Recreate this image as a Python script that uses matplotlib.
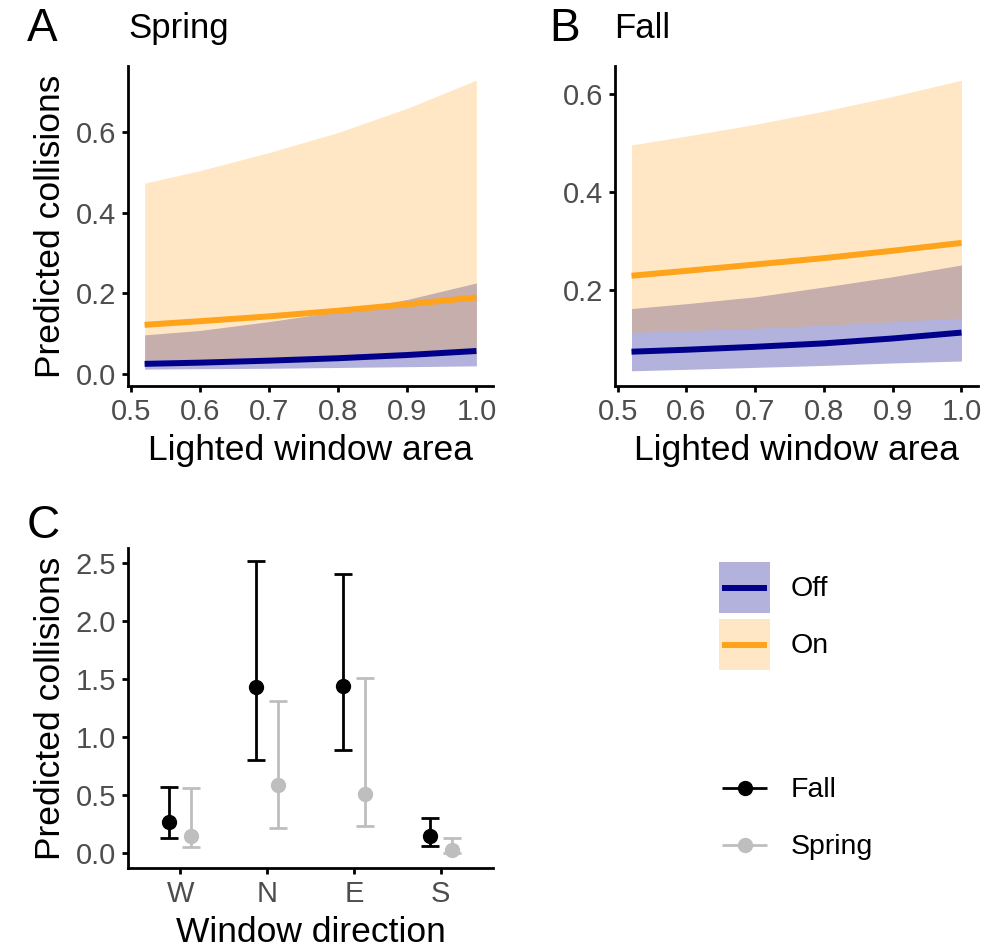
import matplotlib
matplotlib.use("Agg")
import matplotlib.pyplot as plt
from matplotlib.lines import Line2D
from matplotlib.patches import Rectangle
import numpy as np

plt.rcParams['font.family'] = ['Liberation Sans', 'DejaVu Sans']

# ---- data ----
area = [0.52, 0.6, 0.7, 0.8, 0.9, 1.0]

spring_on = [0.122, 0.131, 0.143, 0.157, 0.173, 0.190]
spring_on_lo = [0.035, 0.037, 0.040, 0.043, 0.047, 0.050]
spring_on_hi = [0.474, 0.505, 0.550, 0.600, 0.660, 0.730]
spring_off = [0.025, 0.028, 0.033, 0.039, 0.047, 0.057]
spring_off_lo = [0.012, 0.013, 0.014, 0.016, 0.018, 0.020]
spring_off_hi = [0.097, 0.108, 0.130, 0.155, 0.185, 0.226]

fall_on = [0.230, 0.240, 0.253, 0.266, 0.281, 0.297]
fall_on_lo = [0.1145, 0.118, 0.123, 0.129, 0.136, 0.144]
fall_on_hi = [0.497, 0.515, 0.539, 0.566, 0.596, 0.629]
fall_off = [0.075, 0.079, 0.085, 0.092, 0.102, 0.114]
fall_off_lo = [0.036, 0.039, 0.043, 0.047, 0.052, 0.056]
fall_off_hi = [0.163, 0.173, 0.187, 0.207, 0.228, 0.252]

directions = ['W', 'N', 'E', 'S']
fall_pred = [0.264, 1.428, 1.440, 0.147]
fall_lo = [0.129, 0.800, 0.885, 0.060]
fall_hi = [0.569, 2.520, 2.410, 0.300]
spr_pred = [0.147, 0.590, 0.510, 0.030]
spr_lo = [0.050, 0.220, 0.235, 0.000]
spr_hi = [0.560, 1.310, 1.510, 0.130]

OFF = '#00008B'
ON = '#FFA31A'
GREY = '#BEBEBE'
TICKCOL = '#4D4D4D'
TICKFS = 21
TITLEFS = 25.5

W, H = 1004, 950
fig = plt.figure(figsize=(W / 100, H / 100), dpi=100)


def px_axes(l, t, r, b):
    return fig.add_axes([l / W, 1 - b / H, (r - l) / W, (b - t) / H])


def style(ax):
    for s in ['top', 'right']:
        ax.spines[s].set_visible(False)
    for s in ['left', 'bottom']:
        ax.spines[s].set_linewidth(2.0)
        ax.spines[s].set_color('black')
    ax.tick_params(length=4.5, width=2.0, color='black', labelsize=TICKFS,
                   labelcolor=TICKCOL, pad=4)


def ribbon_panel(ax, on, on_lo, on_hi, off, off_lo, off_hi):
    ax.fill_between(area, off_lo, off_hi, color=OFF, alpha=0.3, lw=0)
    ax.fill_between(area, on_lo, on_hi, color=ON, alpha=0.25, lw=0)
    ax.plot(area, off, color=OFF, lw=4.3, solid_capstyle='butt')
    ax.plot(area, on, color=ON, lw=4.3, solid_capstyle='butt')
    ax.set_xlim(0.496, 1.024)
    ax.set_xticks([0.5, 0.6, 0.7, 0.8, 0.9, 1.0])
    ax.set_xticklabels(['0.5', '0.6', '0.7', '0.8', '0.9', '1.0'])
    ax.set_xlabel('Lighted window area', fontsize=TITLEFS, labelpad=6)
    style(ax)


# A: spring
axA = px_axes(128, 66, 493, 386)
ribbon_panel(axA, spring_on, spring_on_lo, spring_on_hi,
             spring_off, spring_off_lo, spring_off_hi)
axA.set_ylim(-0.030, 0.765)
axA.set_yticks([0.0, 0.2, 0.4, 0.6])
axA.set_yticklabels(['0.0', '0.2', '0.4', '0.6'])
axA.set_ylabel('Predicted collisions', fontsize=TITLEFS, labelpad=6)

# B: fall
axB = px_axes(615, 66, 978, 386)
ribbon_panel(axB, fall_on, fall_on_lo, fall_on_hi,
             fall_off, fall_off_lo, fall_off_hi)
axB.set_ylim(0.005, 0.658)
axB.set_yticks([0.2, 0.4, 0.6])
axB.set_yticklabels(['0.2', '0.4', '0.6'])

# C: window direction
axC = px_axes(128, 548, 493, 868)
pos = np.arange(1, len(directions) + 1)
dodge = 0.125
f = np.array(fall_pred)
s = np.array(spr_pred)
axC.errorbar(pos - dodge, f, yerr=[f - np.array(fall_lo), np.array(fall_hi) - f],
             fmt='o', color='black', ms=10, elinewidth=2.0, capsize=6.5, capthick=2.0)
axC.errorbar(pos + dodge, s, yerr=[s - np.array(spr_lo), np.array(spr_hi) - s],
             fmt='o', color=GREY, ms=10, elinewidth=2.0, capsize=6.5, capthick=2.0)
axC.set_xlim(0.4, 4.6)
axC.set_ylim(-0.129, 2.63)
axC.set_xticks(pos)
axC.set_xticklabels(directions)
axC.set_yticks([0.0, 0.5, 1.0, 1.5, 2.0, 2.5])
axC.set_yticklabels(['0.0', '0.5', '1.0', '1.5', '2.0', '2.5'])
axC.set_xlabel('Window direction', fontsize=TITLEFS, labelpad=6)
axC.set_ylabel('Predicted collisions', fontsize=TITLEFS, labelpad=6)
style(axC)

# panel tags and titles
fig.text(27 / W, 1 - 41 / H, 'A', fontsize=33, ha='left', va='baseline')
fig.text(128 / W, 1 - 38 / H, 'Spring', fontsize=25, ha='left', va='baseline')
fig.text(549 / W, 1 - 41 / H, 'B', fontsize=33, ha='left', va='baseline')
fig.text(614 / W, 1 - 38 / H, 'Fall', fontsize=25, ha='left', va='baseline')
fig.text(27 / W, 1 - 538 / H, 'C', fontsize=33, ha='left', va='baseline')


# legends: ggplot-style keys (filled square with a line, or line with a dot)
class Key:
    def __init__(self, color, fill_alpha=None, marker=None, lw=4.3):
        self.color = color
        self.fill_alpha = fill_alpha
        self.marker = marker
        self.lw = lw


class KeyHandler:
    def legend_artist(self, legend, key, fontsize, handlebox):
        x0, y0 = -handlebox.xdescent, -handlebox.ydescent
        w, h = handlebox.width, handlebox.height
        tr = handlebox.get_transform()
        if key.fill_alpha is not None:
            handlebox.add_artist(Rectangle((x0, y0), w, h, facecolor=key.color,
                                           alpha=key.fill_alpha, lw=0, transform=tr))
        ln = Line2D([x0 + 0.06 * w, x0 + 0.94 * w], [y0 + h / 2] * 2, color=key.color,
                    lw=key.lw, solid_capstyle='butt', transform=tr)
        handlebox.add_artist(ln)
        if key.marker:
            handlebox.add_artist(Line2D([x0 + w / 2], [y0 + h / 2], marker=key.marker,
                                        ms=10, color=key.color, lw=0, transform=tr))
        return ln


lfs = 20.5
fpx = lfs * 100 / 72
key_px = 51
hh = (key_px / fpx - 0.245) / 0.65
common = dict(handler_map={Key: KeyHandler()}, loc='upper left', frameon=False,
              fontsize=lfs, borderpad=0, borderaxespad=0, handlelength=key_px / fpx,
              handleheight=hh, labelspacing=6 / fpx, handletextpad=21 / fpx)

fig.legend([Key(OFF, 0.3), Key(ON, 0.25)], ['Off', 'On'],
           bbox_to_anchor=(719 / W, 1 - 562 / H), **common)
fig.legend([Key('black', marker='o', lw=2.0), Key(GREY, marker='o', lw=2.0)],
           ['Fall', 'Spring'], bbox_to_anchor=(719 / W, 1 - 763 / H), **common)

fig.savefig('out.png', dpi=100, facecolor='white')
